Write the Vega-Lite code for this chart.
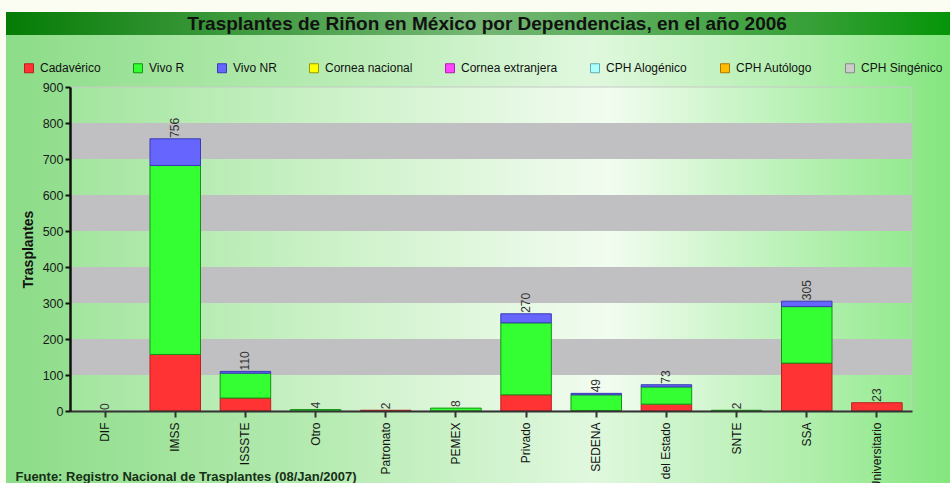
{
  "$schema": "https://vega.github.io/schema/vega-lite/v6.json",
  "background": "#fcfdf2",
  "padding": {"left": 6, "top": 12, "right": 0, "bottom": 0},
  "spacing": 0,
  "bounds": "flush",
  "config": {
    "font": "Liberation Sans",
    "view": {"stroke": null},
    "axisY": {
      "grid": false,
      "domainColor": "#111111",
      "domainWidth": 2.5,
      "tickColor": "#111111",
      "tickSize": 5,
      "tickWidth": 2,
      "labelFontSize": 12.5,
      "labelColor": "#1a1a1a",
      "labelPadding": 2,
      "titleFontSize": 14,
      "titleFontWeight": "bold",
      "titleColor": "#111111",
      "titlePadding": 7
    }
  },
  "datasets": {
    "trasplantes": [
      {"dep": "DIF", "tipo": "Cadavérico", "orden": 1, "n": 0},
      {"dep": "IMSS", "tipo": "Cadavérico", "orden": 1, "n": 157},
      {"dep": "IMSS", "tipo": "Vivo R", "orden": 2, "n": 525},
      {"dep": "IMSS", "tipo": "Vivo NR", "orden": 3, "n": 74},
      {"dep": "ISSSTE", "tipo": "Cadavérico", "orden": 1, "n": 36},
      {"dep": "ISSSTE", "tipo": "Vivo R", "orden": 2, "n": 69},
      {"dep": "ISSSTE", "tipo": "Vivo NR", "orden": 3, "n": 5},
      {"dep": "Otro", "tipo": "Vivo R", "orden": 2, "n": 4},
      {"dep": "Patronato", "tipo": "Cadavérico", "orden": 1, "n": 2},
      {"dep": "PEMEX", "tipo": "Vivo R", "orden": 2, "n": 8},
      {"dep": "Privado", "tipo": "Cadavérico", "orden": 1, "n": 45},
      {"dep": "Privado", "tipo": "Vivo R", "orden": 2, "n": 200},
      {"dep": "Privado", "tipo": "Vivo NR", "orden": 3, "n": 25},
      {"dep": "SEDENA", "tipo": "Cadavérico", "orden": 1, "n": 1},
      {"dep": "SEDENA", "tipo": "Vivo R", "orden": 2, "n": 44},
      {"dep": "SEDENA", "tipo": "Vivo NR", "orden": 3, "n": 4},
      {"dep": "Servicios de Salud del Estado", "tipo": "Cadavérico", "orden": 1, "n": 19},
      {"dep": "Servicios de Salud del Estado", "tipo": "Vivo R", "orden": 2, "n": 48},
      {"dep": "Servicios de Salud del Estado", "tipo": "Vivo NR", "orden": 3, "n": 6},
      {"dep": "SNTE", "tipo": "Vivo R", "orden": 2, "n": 2},
      {"dep": "SSA", "tipo": "Cadavérico", "orden": 1, "n": 133},
      {"dep": "SSA", "tipo": "Vivo R", "orden": 2, "n": 157},
      {"dep": "SSA", "tipo": "Vivo NR", "orden": 3, "n": 15},
      {"dep": "Hospital Universitario", "tipo": "Cadavérico", "orden": 1, "n": 23}
    ]
  },
  "vconcat": [
    {
      "width": 944,
      "height": 23,
      "view": {
        "stroke": null,
        "fill": {
          "gradient": "linear", "x1": 0, "y1": 0, "x2": 1, "y2": 0,
          "stops": [
            {"offset": 0, "color": "#047c04"},
            {"offset": 0.15, "color": "#2a8f2a"},
            {"offset": 0.5, "color": "#74b674"},
            {"offset": 0.85, "color": "#38a038"},
            {"offset": 1, "color": "#059508"}
          ]
        }
      },
      "data": {"values": [{"titulo": "Trasplantes de Riñon en México por Dependencias, en el año 2006"}]},
      "mark": {"type": "text", "font": "Liberation Sans", "fontWeight": "bold", "fontSize": 19, "color": "#111111", "dx": 9, "baseline": "middle"},
      "encoding": {"text": {"field": "titulo", "type": "nominal"}}
    },
    {
      "width": 944,
      "height": 448,
      "view": {
        "stroke": null,
        "fill": {
          "gradient": "linear", "x1": 0, "y1": 0, "x2": 1, "y2": 0,
          "stops": [
            {"offset": 0, "color": "#8cdc88"},
            {"offset": 0.35, "color": "#b8ecb4"},
            {"offset": 0.62, "color": "#e0f8de"},
            {"offset": 0.85, "color": "#b0eeac"},
            {"offset": 1, "color": "#84e67f"}
          ]
        }
      },
      "resolve": {"scale": {"x": "independent"}},
      "layer": [
        {
          "data": {"values": [{"desde": 0, "hasta": 900}]},
          "mark": {
            "type": "rect",
            "stroke": "#c4cac4",
            "strokeWidth": 1,
            "fill": {
              "gradient": "linear", "x1": 0, "y1": 0, "x2": 1, "y2": 0,
              "stops": [
                {"offset": 0, "color": "#a2e59e"},
                {"offset": 0.3, "color": "#cbf1c7"},
                {"offset": 0.64, "color": "#f2fcf0"},
                {"offset": 1, "color": "#94ea90"}
              ]
            }
          },
          "encoding": {
            "x": {"datum": 0, "type": "quantitative", "scale": {"domain": [0, 1], "range": [64, 906], "nice": false, "zero": false}, "axis": null},
            "x2": {"datum": 1},
            "y": {"field": "desde", "type": "quantitative", "scale": {"domain": [0, 900], "range": [376, 52], "nice": false},
              "axis": {"title": "Trasplantes", "values": [0, 100, 200, 300, 400, 500, 600, 700, 800, 900], "orient": "left", "offset": -64, "zindex": 1}},
            "y2": {"field": "hasta"}
          }
        },
        {
          "data": {"values": [
            {"desde": 100, "hasta": 200},
            {"desde": 300, "hasta": 400},
            {"desde": 500, "hasta": 600},
            {"desde": 700, "hasta": 800}
          ]},
          "mark": {"type": "rect", "fill": "#c0c0c2"},
          "encoding": {
            "x": {"datum": 0, "type": "quantitative", "scale": {"domain": [0, 1], "range": [64, 906], "nice": false, "zero": false}, "axis": null},
            "x2": {"datum": 1},
            "y": {"field": "desde", "type": "quantitative", "scale": {"domain": [0, 900], "range": [376, 52], "nice": false},
              "axis": {"title": "Trasplantes", "values": [0, 100, 200, 300, 400, 500, 600, 700, 800, 900], "orient": "left", "offset": -64, "zindex": 1}},
            "y2": {"field": "hasta"}
          }
        },
        {
          "data": {"name": "trasplantes"},
          "transform": [{"filter": "datum.n > 0"}],
          "mark": {"type": "bar", "strokeWidth": 1},
          "encoding": {
            "x": {
              "field": "dep", "type": "nominal",
              "sort": ["DIF", "IMSS", "ISSSTE", "Otro", "Patronato", "PEMEX", "Privado", "SEDENA", "Servicios de Salud del Estado", "SNTE", "SSA", "Hospital Universitario"],
              "scale": {"domain": ["DIF", "IMSS", "ISSSTE", "Otro", "Patronato", "PEMEX", "Privado", "SEDENA", "Servicios de Salud del Estado", "SNTE", "SSA", "Hospital Universitario"], "range": [64, 906], "paddingInner": 0.28, "paddingOuter": 0.14},
              "axis": {
                "title": "Fuente: Registro Nacional de Trasplantes (08/Jan/2007)",
                "orient": "bottom",
                "offset": -72,
                "zindex": 1,
                "labelAngle": 270,
                "labelAlign": "right",
                "labelBaseline": "middle",
                "labelFontSize": 12,
                "labelColor": "#111111",
                "labelPadding": 5,
                "ticks": true,
                "tickSize": 6,
                "tickWidth": 2,
                "tickColor": "#333333",
                "domainColor": "#333333",
                "domainWidth": 2,
                "titleX": 9,
                "titleY": 69,
                "titleAlign": "left",
                "titleAnchor": "start",
                "titleBaseline": "alphabetic",
                "titleFontSize": 13,
                "titleFontWeight": "bold",
                "titleColor": "#163016"
              }
            },
            "y": {
              "field": "n", "type": "quantitative", "stack": "zero",
              "scale": {"domain": [0, 900], "range": [376, 52], "nice": false},
              "axis": {"title": "Trasplantes", "values": [0, 100, 200, 300, 400, 500, 600, 700, 800, 900], "orient": "left", "offset": -64, "zindex": 1}
            },
            "color": {
              "field": "tipo", "type": "nominal",
              "scale": {
                "domain": ["Cadavérico", "Vivo R", "Vivo NR", "Cornea nacional", "Cornea extranjera", "CPH Alogénico", "CPH Autólogo", "CPH Singénico"],
                "range": ["#ff3333", "#33ff33", "#6666ff", "#ffff00", "#ff44ff", "#aaffff", "#ffbb00", "#cccccc"]
              },
              "legend": {
                "orient": "none",
                "legendX": 17,
                "legendY": 50,
                "direction": "horizontal",
                "columns": 8,
                "columnPadding": 30,
                "symbolType": "square",
                "symbolSize": 81,
                "symbolStrokeColor": "#333333",
                "symbolStrokeWidth": 1,
                "labelFontSize": 12,
                "labelColor": "#111111",
                "labelOffset": 5,
                "title": null,
                "padding": 0
              }
            },
            "stroke": {
              "field": "tipo", "type": "nominal",
              "scale": {
                "domain": ["Cadavérico", "Vivo R", "Vivo NR", "Cornea nacional", "Cornea extranjera", "CPH Alogénico", "CPH Autólogo", "CPH Singénico"],
                "range": ["#b82020", "#149414", "#3a3ab4", "#999900", "#aa22aa", "#66aaaa", "#aa7700", "#888888"]
              },
              "legend": null
            },
            "order": {"field": "orden", "type": "quantitative"}
          }
        },
        {
          "data": {"name": "trasplantes"},
          "mark": {"type": "text", "angle": 270, "align": "left", "baseline": "middle", "dx": 1, "fontSize": 12, "color": "#333333"},
          "encoding": {
            "x": {
              "field": "dep", "type": "nominal",
              "sort": ["DIF", "IMSS", "ISSSTE", "Otro", "Patronato", "PEMEX", "Privado", "SEDENA", "Servicios de Salud del Estado", "SNTE", "SSA", "Hospital Universitario"],
              "scale": {"domain": ["DIF", "IMSS", "ISSSTE", "Otro", "Patronato", "PEMEX", "Privado", "SEDENA", "Servicios de Salud del Estado", "SNTE", "SSA", "Hospital Universitario"], "range": [64, 906], "paddingInner": 0.28, "paddingOuter": 0.14},
              "axis": null
            },
            "y": {"aggregate": "sum", "field": "n", "type": "quantitative", "scale": {"domain": [0, 900], "range": [376, 52], "nice": false},
              "axis": {"title": "Trasplantes", "values": [0, 100, 200, 300, 400, 500, 600, 700, 800, 900], "orient": "left", "offset": -64, "zindex": 1}},
            "text": {"aggregate": "sum", "field": "n", "type": "quantitative"}
          }
        }
      ]
    }
  ]
}
